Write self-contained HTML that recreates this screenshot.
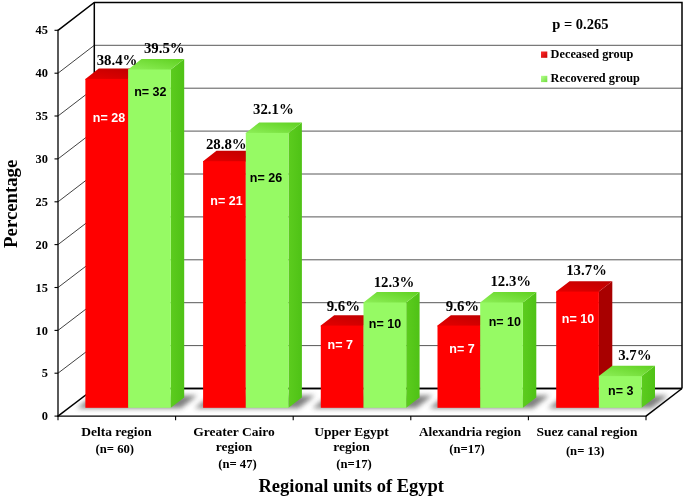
<!DOCTYPE html>
<html lang="en"><head><meta charset="utf-8"><title>Regional units of Egypt</title>
<style>
html,body{margin:0;padding:0;background:#fff;}
body{width:685px;height:499px;overflow:hidden;}
svg{display:block;}
text{font-family:"Liberation Serif",serif;font-weight:bold;fill:#000;}
.tk{font-size:12.4px;}
.pv{font-size:14.8px;}
.nv{font-family:"Liberation Sans",sans-serif;font-size:12.5px;}
.w{fill:#fff;}
.ct{font-size:13.5px;}
.cn{font-size:12.7px;}
.xt{font-size:18.5px;}
.yt{font-size:18.75px;}
.pp{font-size:14.5px;}
.lt{font-size:12.3px;}
</style></head><body>
<svg width="685" height="499" viewBox="0 0 685 499">
<defs>
<filter id="sh" x="-20%" y="-100%" width="140%" height="300%"><feGaussianBlur stdDeviation="2.8"/></filter>
<linearGradient id="gtop" x1="0" y1="1" x2="1" y2="0"><stop offset="0" stop-color="#8ff05a"/><stop offset="1" stop-color="#5fd020"/></linearGradient>
<linearGradient id="gside" x1="0" y1="0" x2="1" y2="0"><stop offset="0" stop-color="#5ccc1e"/><stop offset="1" stop-color="#4fc216"/></linearGradient>
<linearGradient id="rtop" x1="0" y1="1" x2="1" y2="0"><stop offset="0" stop-color="#e60000"/><stop offset="1" stop-color="#bc0000"/></linearGradient>
<linearGradient id="lg" x1="0" y1="0" x2="1" y2="1"><stop offset="0" stop-color="#b6ff90"/><stop offset="1" stop-color="#6fdc3c"/></linearGradient>
<linearGradient id="lr" x1="0" y1="0" x2="1" y2="1"><stop offset="0" stop-color="#ff3030"/><stop offset="1" stop-color="#c80000"/></linearGradient>
</defs>
<rect width="685" height="499" fill="#fff"/>
<line x1="94.3" y1="345.6" x2="682.0" y2="345.6" stroke="#585858" stroke-width="1.0"/>
<line x1="58.0" y1="373.2" x2="94.3" y2="345.6" stroke="#111" stroke-width="0.8"/>
<line x1="94.3" y1="302.7" x2="682.0" y2="302.7" stroke="#585858" stroke-width="1.0"/>
<line x1="58.0" y1="330.4" x2="94.3" y2="302.7" stroke="#111" stroke-width="0.8"/>
<line x1="94.3" y1="259.8" x2="682.0" y2="259.8" stroke="#585858" stroke-width="1.0"/>
<line x1="58.0" y1="287.5" x2="94.3" y2="259.8" stroke="#111" stroke-width="0.8"/>
<line x1="94.3" y1="216.9" x2="682.0" y2="216.9" stroke="#585858" stroke-width="1.0"/>
<line x1="58.0" y1="244.6" x2="94.3" y2="216.9" stroke="#111" stroke-width="0.8"/>
<line x1="94.3" y1="174.0" x2="682.0" y2="174.0" stroke="#585858" stroke-width="1.0"/>
<line x1="58.0" y1="201.8" x2="94.3" y2="174.0" stroke="#111" stroke-width="0.8"/>
<line x1="94.3" y1="131.1" x2="682.0" y2="131.1" stroke="#585858" stroke-width="1.0"/>
<line x1="58.0" y1="158.9" x2="94.3" y2="131.1" stroke="#111" stroke-width="0.8"/>
<line x1="94.3" y1="88.2" x2="682.0" y2="88.2" stroke="#585858" stroke-width="1.0"/>
<line x1="58.0" y1="116.0" x2="94.3" y2="88.2" stroke="#111" stroke-width="0.8"/>
<line x1="94.3" y1="45.3" x2="682.0" y2="45.3" stroke="#585858" stroke-width="1.0"/>
<line x1="58.0" y1="73.2" x2="94.3" y2="45.3" stroke="#111" stroke-width="0.8"/>
<path d="M58.0,30.3 L94.3,2.4 L682.0,2.4 L682.0,388.5" fill="none" stroke="#000" stroke-width="1.5" stroke-linejoin="miter"/>
<line x1="94.3" y1="2.4" x2="94.3" y2="388.5" stroke="#000" stroke-width="1.5"/>
<line x1="94.3" y1="388.5" x2="682.0" y2="388.5" stroke="#000" stroke-width="1.5"/>
<line x1="58.0" y1="416.1" x2="94.3" y2="388.5" stroke="#000" stroke-width="1.5"/>
<line x1="646.0" y1="416.1" x2="682.0" y2="388.5" stroke="#000" stroke-width="1.5"/>
<path d="M76.9,408.2 L180.8,408.2 L197.3,395.4 L93.4,395.4 Z" fill="#404040" opacity="0.66" filter="url(#sh)"/>
<path d="M194.6,408.2 L298.5,408.2 L315.0,395.4 L211.1,395.4 Z" fill="#404040" opacity="0.66" filter="url(#sh)"/>
<path d="M312.3,408.2 L416.2,408.2 L432.7,395.4 L328.8,395.4 Z" fill="#404040" opacity="0.66" filter="url(#sh)"/>
<path d="M429.0,408.2 L532.9,408.2 L549.4,395.4 L445.5,395.4 Z" fill="#404040" opacity="0.66" filter="url(#sh)"/>
<path d="M547.7,408.2 L651.6,408.2 L668.1,395.4 L564.2,395.4 Z" fill="#404040" opacity="0.66" filter="url(#sh)"/>
<line x1="94.3" y1="388.5" x2="682.0" y2="388.5" stroke="#000" stroke-width="1.5"/>
<path d="M128.1,407.8 L141.5,397.40000000000003 L141.5,68.5 L128.1,78.9 Z" fill="#a80000"/>
<path d="M85.4,79.7 L128.1,79.7 L128.1,78.9 L141.5,68.5 L98.8,68.5 L85.4,78.9 Z" fill="url(#rtop)"/>
<rect x="85.4" y="78.9" width="42.7" height="328.9" fill="#ff0000"/>
<path d="M170.8,407.8 L184.2,397.40000000000003 L184.2,59.1 L170.8,69.5 Z" fill="url(#gside)"/>
<path d="M128.1,70.3 L170.8,70.3 L170.8,69.5 L184.2,59.1 L141.5,59.1 L128.1,69.5 Z" fill="url(#gtop)"/>
<rect x="128.1" y="69.5" width="42.7" height="338.3" fill="#96fa64"/>
<path d="M245.8,407.8 L259.2,397.40000000000003 L259.2,150.8 L245.8,161.2 Z" fill="#a80000"/>
<path d="M203.1,162.0 L245.8,162.0 L245.8,161.2 L259.2,150.8 L216.5,150.8 L203.1,161.2 Z" fill="url(#rtop)"/>
<rect x="203.1" y="161.2" width="42.7" height="246.6" fill="#ff0000"/>
<path d="M288.5,407.8 L301.9,397.40000000000003 L301.9,122.5 L288.5,132.9 Z" fill="url(#gside)"/>
<path d="M245.8,133.7 L288.5,133.7 L288.5,132.9 L301.9,122.5 L259.2,122.5 L245.8,132.9 Z" fill="url(#gtop)"/>
<rect x="245.8" y="132.9" width="42.7" height="274.9" fill="#96fa64"/>
<path d="M363.5,407.8 L376.9,397.40000000000003 L376.9,315.2 L363.5,325.6 Z" fill="#a80000"/>
<path d="M320.8,326.4 L363.5,326.4 L363.5,325.6 L376.9,315.2 L334.2,315.2 L320.8,325.6 Z" fill="url(#rtop)"/>
<rect x="320.8" y="325.6" width="42.7" height="82.2" fill="#ff0000"/>
<path d="M406.2,407.8 L419.6,397.40000000000003 L419.6,292.1 L406.2,302.5 Z" fill="url(#gside)"/>
<path d="M363.5,303.3 L406.2,303.3 L406.2,302.5 L419.6,292.1 L376.9,292.1 L363.5,302.5 Z" fill="url(#gtop)"/>
<rect x="363.5" y="302.5" width="42.7" height="105.3" fill="#96fa64"/>
<path d="M480.2,407.8 L493.6,397.40000000000003 L493.6,315.2 L480.2,325.6 Z" fill="#a80000"/>
<path d="M437.5,326.4 L480.2,326.4 L480.2,325.6 L493.6,315.2 L450.9,315.2 L437.5,325.6 Z" fill="url(#rtop)"/>
<rect x="437.5" y="325.6" width="42.7" height="82.2" fill="#ff0000"/>
<path d="M522.9,407.8 L536.3,397.40000000000003 L536.3,292.1 L522.9,302.5 Z" fill="url(#gside)"/>
<path d="M480.2,303.3 L522.9,303.3 L522.9,302.5 L536.3,292.1 L493.6,292.1 L480.2,302.5 Z" fill="url(#gtop)"/>
<rect x="480.2" y="302.5" width="42.7" height="105.3" fill="#96fa64"/>
<path d="M598.9,407.8 L612.3,397.40000000000003 L612.3,281.2 L598.9,291.6 Z" fill="#a80000"/>
<path d="M556.2,292.4 L598.9,292.4 L598.9,291.6 L612.3,281.2 L569.6,281.2 L556.2,291.6 Z" fill="url(#rtop)"/>
<rect x="556.2" y="291.6" width="42.7" height="116.2" fill="#ff0000"/>
<path d="M641.6,407.8 L655.0,397.40000000000003 L655.0,365.7 L641.6,376.1 Z" fill="url(#gside)"/>
<path d="M598.9,376.9 L641.6,376.9 L641.6,376.1 L655.0,365.7 L612.3,365.7 L598.9,376.1 Z" fill="url(#gtop)"/>
<rect x="598.9" y="376.1" width="42.7" height="31.7" fill="#96fa64"/>
<line x1="58.0" y1="29.8" x2="58.0" y2="416.70000000000005" stroke="#000" stroke-width="1.3"/>
<line x1="57.4" y1="416.1" x2="646.6" y2="416.1" stroke="#000" stroke-width="1.4"/>
<line x1="54.5" y1="416.1" x2="58.0" y2="416.1" stroke="#000" stroke-width="1.1"/>
<text x="47.9" y="420.2" text-anchor="end" class="tk">0</text>
<line x1="54.5" y1="373.2" x2="58.0" y2="373.2" stroke="#000" stroke-width="1.1"/>
<text x="47.9" y="377.3" text-anchor="end" class="tk">5</text>
<line x1="54.5" y1="330.4" x2="58.0" y2="330.4" stroke="#000" stroke-width="1.1"/>
<text x="47.9" y="334.5" text-anchor="end" class="tk">10</text>
<line x1="54.5" y1="287.5" x2="58.0" y2="287.5" stroke="#000" stroke-width="1.1"/>
<text x="47.9" y="291.6" text-anchor="end" class="tk">15</text>
<line x1="54.5" y1="244.6" x2="58.0" y2="244.6" stroke="#000" stroke-width="1.1"/>
<text x="47.9" y="248.7" text-anchor="end" class="tk">20</text>
<line x1="54.5" y1="201.8" x2="58.0" y2="201.8" stroke="#000" stroke-width="1.1"/>
<text x="47.9" y="205.9" text-anchor="end" class="tk">25</text>
<line x1="54.5" y1="158.9" x2="58.0" y2="158.9" stroke="#000" stroke-width="1.1"/>
<text x="47.9" y="163.0" text-anchor="end" class="tk">30</text>
<line x1="54.5" y1="116.0" x2="58.0" y2="116.0" stroke="#000" stroke-width="1.1"/>
<text x="47.9" y="120.1" text-anchor="end" class="tk">35</text>
<line x1="54.5" y1="73.2" x2="58.0" y2="73.2" stroke="#000" stroke-width="1.1"/>
<text x="47.9" y="77.3" text-anchor="end" class="tk">40</text>
<line x1="54.5" y1="30.3" x2="58.0" y2="30.3" stroke="#000" stroke-width="1.1"/>
<text x="47.9" y="34.4" text-anchor="end" class="tk">45</text>
<line x1="58.0" y1="416.1" x2="58.0" y2="420.3" stroke="#000" stroke-width="1.1"/>
<line x1="175.6" y1="416.1" x2="175.6" y2="420.3" stroke="#000" stroke-width="1.1"/>
<line x1="293.2" y1="416.1" x2="293.2" y2="420.3" stroke="#000" stroke-width="1.1"/>
<line x1="410.8" y1="416.1" x2="410.8" y2="420.3" stroke="#000" stroke-width="1.1"/>
<line x1="528.4" y1="416.1" x2="528.4" y2="420.3" stroke="#000" stroke-width="1.1"/>
<line x1="646.0" y1="416.1" x2="646.0" y2="420.3" stroke="#000" stroke-width="1.1"/>
<text x="117" y="64.8" text-anchor="middle" class="pv">38.4%</text>
<text x="164.3" y="53.3" text-anchor="middle" class="pv">39.5%</text>
<text x="226.3" y="148.5" text-anchor="middle" class="pv">28.8%</text>
<text x="273.4" y="114.2" text-anchor="middle" class="pv">32.1%</text>
<text x="343.3" y="310.5" text-anchor="middle" class="pv">9.6%</text>
<text x="394" y="287.4" text-anchor="middle" class="pv">12.3%</text>
<text x="462.5" y="311" text-anchor="middle" class="pv">9.6%</text>
<text x="510.8" y="286.2" text-anchor="middle" class="pv">12.3%</text>
<text x="586.5" y="275" text-anchor="middle" class="pv">13.7%</text>
<text x="634.8" y="360.2" text-anchor="middle" class="pv">3.7%</text>
<text x="109" y="121.5" text-anchor="middle" class="nv w">n= 28</text>
<text x="150.3" y="96" text-anchor="middle" class="nv">n= 32</text>
<text x="226.5" y="205.2" text-anchor="middle" class="nv w">n= 21</text>
<text x="266" y="181.5" text-anchor="middle" class="nv">n= 26</text>
<text x="340.3" y="349" text-anchor="middle" class="nv w">n= 7</text>
<text x="385" y="328.4" text-anchor="middle" class="nv">n= 10</text>
<text x="462" y="352.5" text-anchor="middle" class="nv w">n= 7</text>
<text x="504.8" y="326" text-anchor="middle" class="nv">n= 10</text>
<text x="578" y="323" text-anchor="middle" class="nv w">n= 10</text>
<text x="620.7" y="394.5" text-anchor="middle" class="nv">n= 3</text>
<text x="116.5" y="436" text-anchor="middle" class="ct">Delta region</text>
<text x="114.8" y="452.6" text-anchor="middle" class="cn">(n= 60)</text>
<text x="234" y="436" text-anchor="middle" class="ct">Greater Cairo</text>
<text x="234" y="451.4" text-anchor="middle" class="ct">region</text>
<text x="237.5" y="468.4" text-anchor="middle" class="cn">(n= 47)</text>
<text x="351.5" y="436" text-anchor="middle" class="ct">Upper Egypt</text>
<text x="351.5" y="451.4" text-anchor="middle" class="ct">region</text>
<text x="354" y="468.4" text-anchor="middle" class="cn">(n=17)</text>
<text x="470" y="436" text-anchor="middle" class="ct" style="font-size:13.2px">Alexandria region</text>
<text x="467" y="453" text-anchor="middle" class="cn">(n=17)</text>
<text x="587" y="436" text-anchor="middle" class="ct">Suez canal region</text>
<text x="585.2" y="455.2" text-anchor="middle" class="cn">(n= 13)</text>
<text x="351.2" y="491.8" text-anchor="middle" class="xt">Regional units of Egypt</text>
<text transform="translate(17,203.8) rotate(-90)" text-anchor="middle" class="yt">Percentage</text>
<text x="552.3" y="28.6" class="pp">p = 0.265</text>
<rect x="541" y="51.5" width="6.3" height="6.3" fill="url(#lr)"/>
<rect x="541" y="75.8" width="6.3" height="6.3" fill="url(#lg)"/>
<text x="550.6" y="57.7" class="lt">Deceased group</text>
<text x="550.6" y="82" class="lt">Recovered group</text>
</svg>
</body></html>
